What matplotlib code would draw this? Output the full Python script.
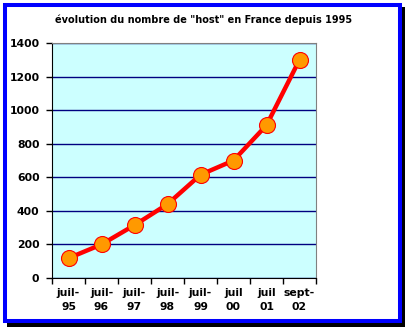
import matplotlib.pyplot as plt
from matplotlib.patches import Rectangle

# -------------------------
# données
# -------------------------
periodes = ["juil-\n95", "juil-\n96", "juil-\n97", "juil-\n98", "juil-\n99", "juil\n00", "juil\n01", "sept-\n02"]
hosts = [118, 200, 315, 440, 615, 700, 910, 1300]
graduations = [0, 200, 400, 600, 800, 1000, 1200, 1400]

W, H = 408, 328
fig = plt.figure(figsize=(W / 100, H / 100), dpi=100)
fig.patch.set_facecolor("white")

# cadre bleu avec ombre noire
def px(x0, y0, x1, y1):
    # coordonnées pixel (origine en haut) -> fraction de figure
    return (x0 / W, 1 - y1 / H), (x1 - x0) / W, (y1 - y0) / H

xy, w, h = px(7, 7, 405, 327)
fig.patches.append(Rectangle(xy, w, h, transform=fig.transFigure, facecolor="black",
                             edgecolor="none", zorder=0))
xy, w, h = px(5, 5, 399.7, 321.3)
fig.patches.append(Rectangle(xy, w, h, transform=fig.transFigure, facecolor="white",
                             edgecolor="#0000FF", linewidth=2.9, zorder=1))

ax = fig.add_axes([52 / W, 1 - 278 / H, (316 - 52) / W, (278 - 43) / H])
ax.set_zorder(5)
ax.set_facecolor("#CCFFFF")

x = list(range(len(periodes)))
ax.plot(x, hosts, color="#FF0000", linewidth=3.2, marker="o", markersize=11.5,
        markerfacecolor="#FF9900", markeredgecolor="#FF0000", markeredgewidth=0.8,
        zorder=3, clip_on=False)

ax.set_xlim(-0.5, len(periodes) - 0.5)
ax.set_ylim(0, 1400)
ax.set_yticks(graduations)
ax.set_yticklabels([str(g) for g in graduations], fontsize=7.8, fontweight="bold")
ax.set_xticks(x)
ax.set_xticklabels(periodes, fontsize=7.8, fontweight="bold", linespacing=1.55)
ax.set_xticks([i - 0.5 for i in range(len(periodes) + 1)], minor=True)
ax.tick_params(axis="x", which="major", length=0, pad=7)
ax.tick_params(axis="x", which="minor", length=4, width=1, direction="out")
ax.tick_params(axis="y", length=4, width=1, direction="out", pad=5)

ax.yaxis.grid(True, color="#000080", linewidth=1)
ax.set_axisbelow(True)
for cote in ["top", "right"]:
    ax.spines[cote].set_color("#808080")
for cote in ["left", "bottom"]:
    ax.spines[cote].set_color("black")

fig.text(0.5, 1 - 20 / H, "évolution du nombre de \"host\" en France depuis 1995",
         ha="center", va="center", fontsize=7, fontweight="bold", zorder=6)

fig.savefig("out.png", dpi=100)
